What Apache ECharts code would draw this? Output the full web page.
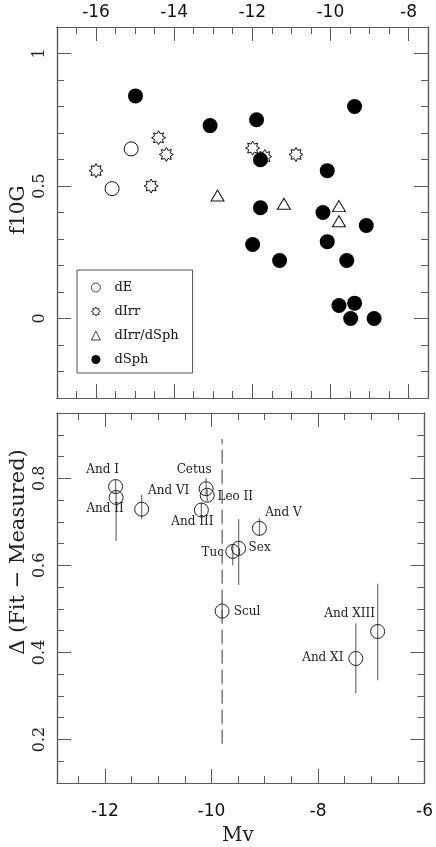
<!DOCTYPE html>
<html><head><meta charset="utf-8">
<script src="https://cdn.jsdelivr.net/npm/echarts@6/dist/echarts.min.js"></script>
<style>html,body{margin:0;padding:0;background:#fff}#c{width:436px;height:847px}</style>
</head><body><div id="c"></div>
<script>
// ---------- Top panel data (f10G vs Mv) ----------
const dE_Mv   = [-15.10, -15.59];
const dE_f    = [0.64, 0.49];
const dIrr_Mv = [-16.00, -14.40, -14.20, -14.59, -11.99, -11.68, -10.88];
const dIrr_f  = [0.558, 0.682, 0.619, 0.500, 0.643, 0.611, 0.619];
const tr_Mv   = [-12.89, -11.19, -9.78, -9.78];
const tr_f    = [0.464, 0.433, 0.424, 0.367];
const dSph_Mv = [-14.99, -13.08, -11.89, -9.38, -11.79, -10.08, -11.79, -10.19, -9.08, -11.99, -10.08, -11.30, -9.58, -9.78, -9.38, -9.48, -8.88];
const dSph_f  = [0.840, 0.728, 0.750, 0.800, 0.599, 0.558, 0.418, 0.400, 0.351, 0.279, 0.290, 0.219, 0.219, 0.049, 0.058, 0.000, 0.000];
const legendNames = ['dE', 'dIrr', 'dIrr/dSph', 'dSph'];

// ---------- Bottom panel data (Delta vs Mv) ----------
const galNames = ['And I', 'And II', 'And VI', 'Cetus', 'Leo II', 'And III', 'Tuc', 'Sex', 'And V', 'Scul', 'And XIII', 'And XI'];
const galMv    = [-11.80, -11.79, -11.31, -10.10, -10.08, -10.19, -9.60, -9.49, -9.10, -9.80, -6.88, -7.29];
const galDelta = [0.781, 0.756, 0.729, 0.776, 0.761, 0.727, 0.632, 0.639, 0.685, 0.495, 0.448, 0.386];
const galLo    = [0.765, 0.656, 0.706, 0.760, 0.747, 0.710, 0.600, 0.555, 0.667, 0.475, 0.336, 0.306];
const galHi    = [0.796, 0.770, 0.763, 0.800, 0.775, 0.745, 0.648, 0.706, 0.708, 0.515, 0.558, 0.467];
const dividerMv = -9.8;
const dividerRange = [0.19, 0.89];

// ---------- Tick labels ----------
const topXMajor = [-16, -14, -12, -10, -8];
const topYMajor = [0, 0.5, 1];
const botXMajor = [-12, -10, -8, -6];
const botYMajor = [0.2, 0.4, 0.6, 0.8];

// ---------- helpers ----------
function steps(a, b, s) { const r = []; for (let v = a; v <= b + 1e-9; v += s) r.push(+v.toFixed(3)); return r; }
const topXMinor = steps(-16.5, -8, 0.5);
const topYMinor = steps(-0.2, 1.0, 0.1);
const botXMinor = steps(-12.5, -6.5, 0.5);
const botYMinor = steps(0.15, 0.9, 0.05);

const FRAME = '#5a5a5a';
const xLab = { fontFamily: 'DejaVu Sans', fontSize: 17, color: '#111' };
const yLab = { fontFamily: 'DejaVu Serif', fontSize: 16, color: '#222', rotate: 90 };

function ax(grid, pos, min, max, ticks, len, labels, lab) {
  const a = {
    type: 'value', gridIndex: grid, position: pos, min: min, max: max,
    splitLine: { show: false },
    axisLine: { show: true, onZero: false, lineStyle: { color: FRAME, width: 1.2 } },
    axisTick: { show: true, inside: true, length: len, customValues: ticks, lineStyle: { color: FRAME, width: 1 } },
    minorTick: { show: false },
    axisLabel: { show: false }
  };
  if (labels) a.axisLabel = Object.assign({ show: true, customValues: labels, formatter: v => String(+v.toFixed(2)) }, lab);
  return a;
}

const xAxes = [
  ax(0, 'top', -17, -7.5, topXMinor, 7),
  ax(0, 'top', -17, -7.5, topXMajor, 14, topXMajor, Object.assign({ margin: 6 }, xLab)),
  ax(0, 'bottom', -17, -7.5, topXMinor, 7),
  ax(0, 'bottom', -17, -7.5, topXMajor, 14),
  ax(1, 'top', -12.9, -6, botXMinor, 7),
  ax(1, 'top', -12.9, -6, botXMajor, 14),
  ax(1, 'bottom', -12.9, -6, botXMinor, 7),
  ax(1, 'bottom', -12.9, -6, botXMajor, 14, botXMajor, Object.assign({ margin: 20 }, xLab))
];
const yAxes = [
  ax(0, 'left', -0.3, 1.1, topYMinor, 7),
  ax(0, 'left', -0.3, 1.1, topYMajor, 14, topYMajor, Object.assign({ margin: 9 }, yLab)),
  ax(0, 'right', -0.3, 1.1, topYMinor, 7),
  ax(0, 'right', -0.3, 1.1, topYMajor, 14),
  ax(1, 'left', 0.1, 0.95, botYMinor, 7),
  ax(1, 'left', 0.1, 0.95, botYMajor, 14, botYMajor, Object.assign({ margin: 9 }, yLab)),
  ax(1, 'right', 0.1, 0.95, botYMinor, 7),
  ax(1, 'right', 0.1, 0.95, botYMajor, 14)
];

// 8-pointed star outline symbol
function starPath(n, inner) {
  let d = '';
  for (let i = 0; i < 2 * n; i++) {
    const r = i % 2 ? inner : 1;
    const a = Math.PI * i / n - Math.PI / 2;
    d += (i ? 'L' : 'M') + (r * Math.cos(a)).toFixed(3) + ' ' + (r * Math.sin(a)).toFixed(3) + ' ';
  }
  return 'path://' + d + 'Z';
}
const STAR = starPath(8, 0.62);

const zip = (a, b) => a.map((v, i) => [v, b[i]]);

const hollow = { color: '#fff', borderColor: '#111', borderWidth: 1, opacity: 1 };
const labelOffsets = {
  'And I': [-13, -17], 'And II': [-11, 11], 'And VI': [27, -18], 'Cetus': [-12, -19],
  'Leo II': [28, 2], 'And III': [-9, 12], 'Tuc': [-20, 1], 'Sex': [21, -1],
  'And V': [24, -15], 'Scul': [25, 1], 'And XIII': [-28, -18], 'And XI': [-33, -1]
};

const option = {
  animation: false,
  backgroundColor: '#fff',
  grid: [
    { left: 57, right: 8, top: 27, height: 371, show: false },
    { left: 57, right: 8, top: 413, height: 370, show: false }
  ],
  xAxis: xAxes,
  yAxis: yAxes,
  legend: {
    orient: 'vertical', left: 77, top: 270,
    padding: [11, 14, 7, 14], itemWidth: 9, itemHeight: 9, itemGap: 11,
    borderColor: '#555', borderWidth: 1,
    data: legendNames,
    itemStyle: { borderWidth: 0.8 },
    textStyle: { fontFamily: 'DejaVu Serif', fontSize: 13, color: '#111', padding: [0, 0, 0, 9] },
    selectedMode: false
  },
  graphic: [
    { type: 'text', x: 19, y: 210, rotation: Math.PI / 2, style: { text: 'f10G', font: '20px "DejaVu Serif"', fill: '#222', align: 'center', verticalAlign: 'middle' } },
    { type: 'text', x: 19, y: 552, rotation: Math.PI / 2, style: { text: 'Δ (Fit − Measured)', font: '21px "DejaVu Serif"', fill: '#222', align: 'center', verticalAlign: 'middle' } },
    { type: 'text', x: 238, y: 836, style: { text: 'Mv', font: '20px "DejaVu Serif"', fill: '#222', align: 'center', verticalAlign: 'middle' } }
  ],
  series: [
    { name: 'dE', type: 'scatter', xAxisIndex: 1, yAxisIndex: 1, symbol: 'circle', symbolSize: 14, itemStyle: hollow, data: zip(dE_Mv, dE_f) },
    { name: 'dIrr', type: 'scatter', xAxisIndex: 1, yAxisIndex: 1, symbol: STAR, symbolSize: 14, itemStyle: hollow, data: zip(dIrr_Mv, dIrr_f) },
    { name: 'dIrr/dSph', type: 'scatter', xAxisIndex: 1, yAxisIndex: 1, symbol: 'triangle', symbolSize: [13, 11], itemStyle: hollow, data: zip(tr_Mv, tr_f) },
    { name: 'dSph', type: 'scatter', xAxisIndex: 1, yAxisIndex: 1, symbol: 'circle', symbolSize: 15, itemStyle: { color: '#000', opacity: 1 }, data: zip(dSph_Mv, dSph_f) },
    {
      type: 'line', xAxisIndex: 7, yAxisIndex: 5, symbol: 'none', silent: true,
      lineStyle: { color: '#555', width: 1.2, type: [14, 6] },
      data: dividerRange.map(v => [dividerMv, v])
    },
    {
      type: 'custom', xAxisIndex: 7, yAxisIndex: 5, silent: true,
      data: galMv.map((m, i) => [m, galLo[i], galHi[i]]),
      renderItem: function (params, api) {
        const p1 = api.coord([api.value(0), api.value(1)]);
        const p2 = api.coord([api.value(0), api.value(2)]);
        return { type: 'line', shape: { x1: p1[0], y1: p1[1], x2: p2[0], y2: p2[1] }, style: { stroke: '#777', lineWidth: 1.3 } };
      }
    },
    {
      type: 'scatter', xAxisIndex: 7, yAxisIndex: 5, symbol: 'circle', symbolSize: 14,
      itemStyle: { color: 'rgba(0,0,0,0)', borderColor: '#222', borderWidth: 1, opacity: 1 },
      data: galMv.map((m, i) => ({
        value: [m, galDelta[i]], name: galNames[i],
        label: { show: true, position: 'inside', offset: labelOffsets[galNames[i]], formatter: '{b}', fontFamily: 'DejaVu Serif', fontSize: 12, color: '#222' }
      }))
    }
  ]
};

const chart = echarts.init(document.getElementById('c'), null, { renderer: 'canvas' });
chart.setOption(option);
</script>
</body></html>
